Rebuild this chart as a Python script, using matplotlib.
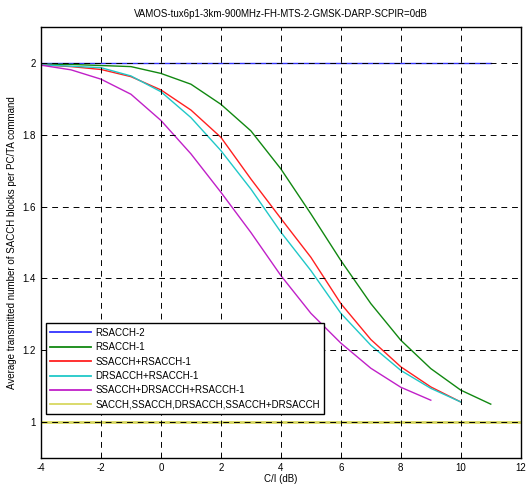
import numpy as np
import matplotlib
matplotlib.use("Agg")
import matplotlib.pyplot as plt

plt.rcParams['font.family'] = ['Liberation Sans', 'DejaVu Sans']
plt.rcParams['axes.unicode_minus'] = False

# C/I points (dB)
ci_long = [-4, -3, -2, -1, 0, 1, 2, 3, 4, 5, 6, 7, 8, 9, 10, 11]
ci_10 = [-4, -3, -2, -1, 0, 1, 2, 3, 4, 5, 6, 7, 8, 9, 10]
ci_9 = [-4, -3, -2, -1, 0, 1, 2, 3, 4, 5, 6, 7, 8, 9]
ci_full = [-4, 12]

rsacch2 = [2.0] * 16
rsacch1 = [1.997, 1.996, 1.993, 1.99, 1.971, 1.941, 1.885, 1.811, 1.705,
           1.58, 1.45, 1.33, 1.228, 1.149, 1.089, 1.05]
ssacch_rsacch1 = [1.995, 1.99, 1.982, 1.962, 1.925, 1.869, 1.793, 1.677,
                  1.567, 1.459, 1.33, 1.23, 1.154, 1.098, 1.056]
drsacch_rsacch1 = [1.995, 1.991, 1.987, 1.964, 1.92, 1.848, 1.756, 1.649,
                   1.529, 1.422, 1.303, 1.214, 1.144, 1.094, 1.056]
ss_dr_rsacch1 = [1.994, 1.981, 1.955, 1.913, 1.84, 1.747, 1.64, 1.528,
                 1.408, 1.303, 1.22, 1.15, 1.097, 1.061]
sacch_all = [1.0, 1.0]

fig = plt.figure(figsize=(5.26, 4.84), dpi=100)
ax = fig.add_axes([0.078, 0.0537, 0.912, 0.8903])

ax.plot(ci_long, rsacch2, color='#3333ff', lw=1.0, label='RSACCH-2')
ax.plot(ci_long, rsacch1, color='#118811', lw=1.0, label='RSACCH-1')
ax.plot(ci_10, ssacch_rsacch1, color='#ff2020', lw=1.0, label='SSACCH+RSACCH-1')
ax.plot(ci_10, drsacch_rsacch1, color='#20c8c8', lw=1.0, label='DRSACCH+RSACCH-1')
ax.plot(ci_9, ss_dr_rsacch1, color='#c020c8', lw=1.0, label='SSACCH+DRSACCH+RSACCH-1')
ax.plot(ci_full, sacch_all, color='#d8d860', lw=2.0,
        label='SACCH,SSACCH,DRSACCH,SSACCH+DRSACCH')

ax.set_xlim(-4, 12)
ax.set_ylim(0.9, 2.1)
ax.set_xticks(np.arange(-4, 13, 2))
ax.set_yticks([1, 1.2, 1.4, 1.6, 1.8, 2])
ax.set_yticklabels(['1', '1.2', '1.4', '1.6', '1.8', '2'])
ax.tick_params(direction='in', labelsize=7, length=3, width=0.6)
ax.set_axisbelow(False)
ax.grid(True, color='black', linestyle=(0, (6, 5)), linewidth=0.7)
for sp in ax.spines.values():
    sp.set_linewidth(1.0)

ax.set_title('VAMOS-tux6p1-3km-900MHz-FH-MTS-2-GMSK-DARP-SCPIR=0dB',
             fontsize=7, pad=7)
ax.set_xlabel('C/I (dB)', fontsize=7, labelpad=1)
ax.set_ylabel('Average transmitted number of SACCH blocks per PC/TA command',
              fontsize=7, labelpad=4)

leg = ax.legend(loc='lower left', bbox_to_anchor=(0.0104, 0.102),
                borderaxespad=0, fontsize=7, fancybox=False, framealpha=1,
                edgecolor='black', handlelength=4.2, labelspacing=0.45,
                borderpad=0.45, handletextpad=0.4)
leg.get_frame().set_linewidth(1.0)
for h in leg.get_lines():
    h.set_linewidth(1.3)

fig.savefig('out.png', dpi=100)
